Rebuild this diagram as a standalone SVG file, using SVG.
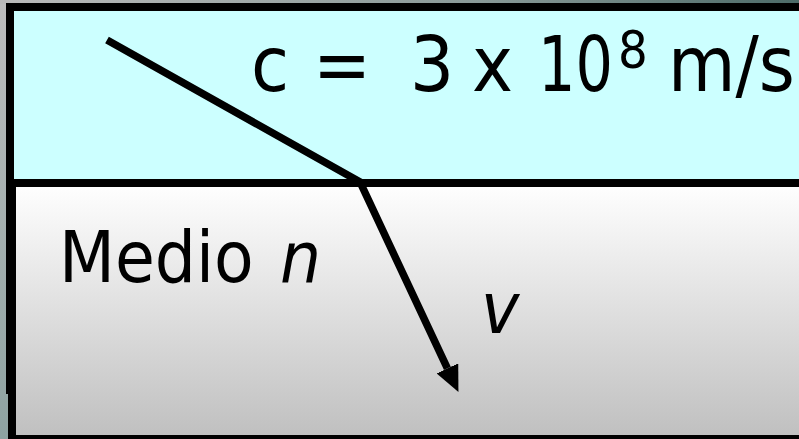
<svg xmlns="http://www.w3.org/2000/svg" width="799" height="439" viewBox="0 0 799 439">
  <defs>
    <linearGradient id="bgTop" x1="0" y1="0" x2="1" y2="0">
      <stop offset="0" stop-color="#bababa"/>
      <stop offset="0.6" stop-color="#8a9a98"/>
      <stop offset="1" stop-color="#4d6b68"/>
    </linearGradient>
    <linearGradient id="bgLeft" x1="0" y1="0" x2="0" y2="1">
      <stop offset="0" stop-color="#bdbdbd"/>
      <stop offset="1" stop-color="#8ea3a2"/>
    </linearGradient>
    <linearGradient id="medium" x1="0" y1="0" x2="0" y2="1">
      <stop offset="0" stop-color="#ffffff"/>
      <stop offset="1" stop-color="#bfbfbf"/>
    </linearGradient>
    <marker id="arrow" markerUnits="userSpaceOnUse" markerWidth="26" markerHeight="24" viewBox="0 0 25 23" refX="0" refY="11.5" orient="auto">
      <path d="M0,0 L25,11.5 L0,23 z" fill="#000"/>
    </marker>
    <style>
      .box { stroke: #000; stroke-width: 8; }
      .lbl { font-family: "DejaVu Sans Condensed", "DejaVu Sans", sans-serif; fill: #000; }
      .ray { fill: none; stroke: #000; stroke-width: 7.5; stroke-linejoin: miter; }
    </style>
  </defs>

  <g id="background">
    <rect x="0" y="0" width="799" height="439" fill="url(#bgLeft)"/>
    <rect x="0" y="0" width="799" height="4" fill="url(#bgTop)"/>
  </g>

  <g id="medio">
    <rect x="6" y="183" width="4" height="211" fill="#000"/>
    <rect class="box" x="12" y="183" width="800" height="256" fill="url(#medium)"/>
    <text class="lbl" x="59" y="282" font-size="72">Medio <tspan x="280" font-style="italic">n</tspan></text>
    <text class="lbl" x="481" y="333" font-size="72" font-style="italic">v</text>
  </g>

  <g id="vacio">
    <rect class="box" x="10" y="7" width="800" height="176" fill="#ccffff"/>
    <text class="lbl" y="91" font-size="77"><tspan x="251">c</tspan><tspan x="313">=</tspan><tspan x="410">3</tspan><tspan x="472">x</tspan></text>
    <text class="lbl" x="0" y="0" font-size="77" transform="translate(538,91) scale(0.85,1)">10</text>
    <text class="lbl" x="618" y="68" font-size="52">8</text>
    <text class="lbl" x="668" y="91" font-size="77">m/s</text>
  </g>

  <g id="connectors">
    <path class="ray" d="M107,40 L360,182 L447.4,368.4" marker-end="url(#arrow)"/>
  </g>
</svg>
